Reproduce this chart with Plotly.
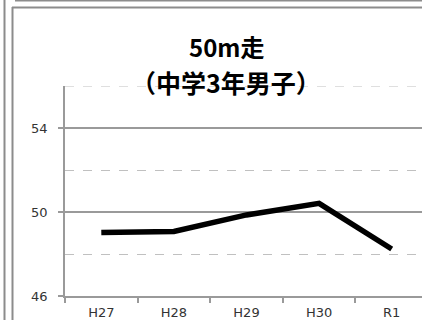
import plotly.graph_objects as go

# Data
categories = ["H27", "H28", "H29", "H30", "R1"]
values = [49.02, 49.07, 49.86, 50.41, 48.24]
title_line1 = "50m走"
title_line2 = "（中学3年男子）"

W, H = 422, 320
L, R_EDGE, T, B = 65, 422, 86, 296
pw, ph = R_EDGE - L, B - T

def px(x):
    return (x - L) / pw

def py(y):
    return (B - y) / ph

fig = go.Figure()
fig.add_trace(go.Scatter(
    x=categories, y=values, mode="lines",
    line=dict(color="black", width=5.5),
    hoverinfo="skip", showlegend=False,
))

cat_w = 72.6
fig.update_layout(
    width=W, height=H,
    margin=dict(l=L, r=W - R_EDGE, t=T, b=H - B, pad=0),
    paper_bgcolor="white", plot_bgcolor="white",
    showlegend=False,
    font=dict(family="DejaVu Sans", size=13, color="#333333"),
    xaxis=dict(
        type="category",
        range=[-0.5, -0.5 + pw / cat_w],
        showline=True, linecolor="#9a9a9a", linewidth=1.5,
        showgrid=False, zeroline=False,
        ticks="outside", tickson="boundaries", ticklen=5,
        tickcolor="#9a9a9a", tickwidth=1.5,
        ticklabelstandoff=4,
        tickfont=dict(family="DejaVu Sans", size=13, color="#333333"),
    ),
    yaxis=dict(
        range=[46, 56], tick0=46, dtick=4,
        showline=True, linecolor="#9a9a9a", linewidth=1.5,
        showgrid=True, gridcolor="#9a9a9a", gridwidth=1.5,
        zeroline=False,
        ticks="outside", ticklen=5, tickcolor="#9a9a9a", tickwidth=1.5,
        ticklabelstandoff=8,
        tickfont=dict(family="DejaVu Sans", size=13, color="#333333"),
        minor=dict(tick0=46, dtick=2, showgrid=True, gridcolor="#c0c0c0",
                   gridwidth=1, griddash="dash", ticks=""),
    ),
)

# top minor gridline at the upper range limit (56)
fig.add_shape(type="line", xref="paper", yref="y", x0=0, x1=1, y0=56, y1=56,
              line=dict(color="#c0c0c0", width=1, dash="dash"), layer="below")

# Title (two lines)
fig.add_annotation(text=title_line1, xref="paper", yref="paper",
                   x=px(226), y=py(46), xanchor="center", yanchor="middle",
                   showarrow=False,
                   font=dict(family="Noto Sans CJK JP", size=24, color="black", weight="bold"))
fig.add_annotation(text=title_line2, xref="paper", yref="paper",
                   x=px(226), y=py(82), xanchor="center", yanchor="middle",
                   showarrow=False,
                   font=dict(family="Noto Sans CJK JP", size=25, color="black", weight="bold"))

# Outer frame lines (cropped chart borders)
frame = "#8c8c8c"
fig.add_shape(type="line", xref="paper", yref="paper", x0=px(4.5), x1=px(4.5),
              y0=py(0), y1=py(320), line=dict(color=frame, width=2))
fig.add_shape(type="line", xref="paper", yref="paper", x0=px(12.5), x1=px(12.5),
              y0=py(7), y1=py(320), line=dict(color=frame, width=2))
fig.add_shape(type="line", xref="paper", yref="paper", x0=px(15), x1=px(422),
              y0=py(0.5), y1=py(0.5), line=dict(color=frame, width=2))
fig.add_shape(type="line", xref="paper", yref="paper", x0=px(12), x1=px(422),
              y0=py(7.5), y1=py(7.5), line=dict(color=frame, width=2))

fig.write_html("out.html", config={"displayModeBar": False})

# remove default page margin so the figure sits at the window's top-left corner
with open("out.html", "r", encoding="utf-8") as f:
    html = f.read()
html = html.replace("<head>", "<head><style>html,body{margin:0;padding:0;overflow:hidden;}</style>", 1)
with open("out.html", "w", encoding="utf-8") as f:
    f.write(html)
